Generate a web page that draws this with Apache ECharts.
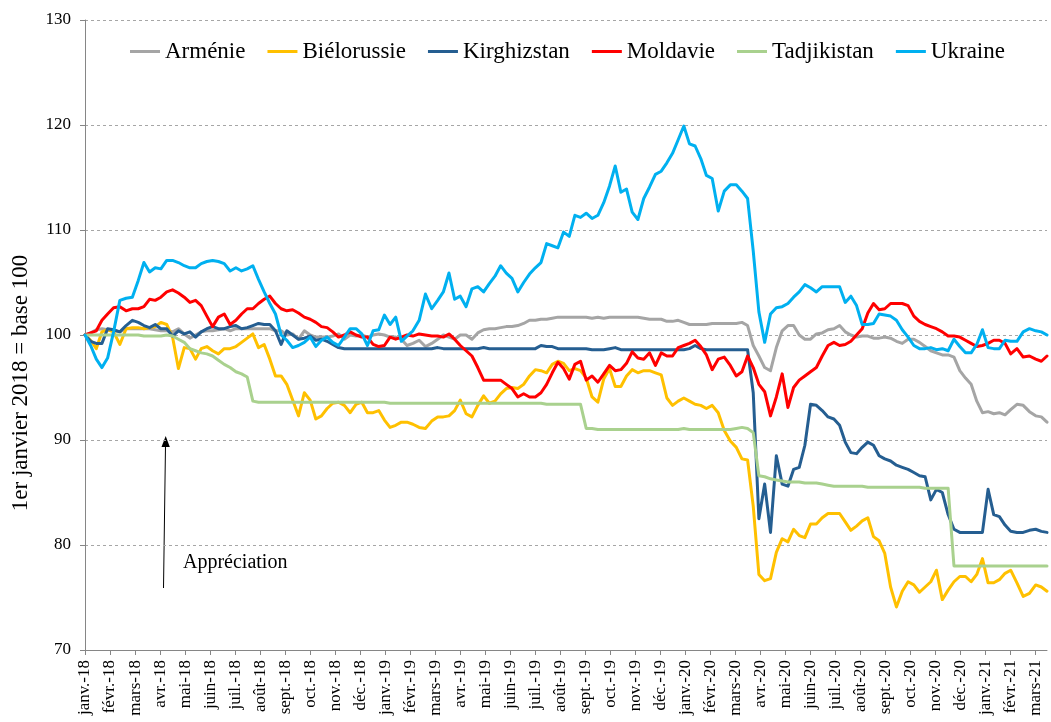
<!DOCTYPE html>
<html>
<head>
<meta charset="utf-8">
<title>Taux de change effectifs</title>
<script src="https://cdn.jsdelivr.net/npm/echarts@6/dist/echarts.min.js"></script>
<style>
  html, body {margin:0; padding:0; background:#fff;}
  #chart {width:1051px; height:722px;}
</style>
</head>
<body>
<div id="chart"></div>
<script>
// Etiquettes mensuelles de l'axe des abscisses
const monthLabels = [
    'janv.-18','févr.-18','mars-18','avr.-18','mai-18','juin-18','juil.-18','août-18','sept.-18','oct.-18','nov.-18','déc.-18',
    'janv.-19','févr.-19','mars-19','avr.-19','mai-19','juin-19','juil.-19','août-19','sept.-19','oct.-19','nov.-19','déc.-19',
    'janv.-20','févr.-20','mars-20','avr.-20','mai-20','juin-20','juil.-20','août-20','sept.-20','oct.-20','nov.-20','déc.-20',
    'janv.-21','févr.-21','mars-21'
];
const firstWeek = [2018, 0, 1]; // données hebdomadaires a partir du 1er janvier 2018

// Series hebdomadaires (base 100 = 1er janvier 2018)
const armenie = [
    100, 100.2, 100.5, 100.6, 100.5, 100.4, 100.3, 100.6, 100.6, 100.6,
    100.6, 100.6, 100.5, 100.4, 100.4, 100.3, 100.6, 100.1, 99.7, 100.0,
    100.3, 100.4, 100.4, 100.5, 100.6, 100.4, 100.6, 100.6, 100.6, 100.6,
    100.6, 100.6, 100.6, 100.4, 100.4, 100.0, 100.1, 99.6, 100.4, 100.0,
    99.8, 99.8, 99.8, 99.9, 100.1, 99.6, 100.0, 99.9, 100.0, 99.8,
    100.0, 100.1, 100.0, 99.8, 99.8, 99.6, 99.0, 99.2, 99.5, 98.9,
    99.2, 99.6, 100.0, 99.8, 99.6, 100.0, 100.0, 99.6, 100.2, 100.5,
    100.6, 100.6, 100.7, 100.8, 100.8, 100.9, 101.1, 101.4, 101.4, 101.5,
    101.5, 101.6, 101.7, 101.7, 101.7, 101.7, 101.7, 101.7, 101.6, 101.7,
    101.6, 101.7, 101.7, 101.7, 101.7, 101.7, 101.7, 101.6, 101.5, 101.5,
    101.5, 101.3, 101.3, 101.4, 101.2, 101.0, 101.0, 101.0, 101.0, 101.1,
    101.1, 101.1, 101.1, 101.1, 101.2, 100.9, 99.0, 98.0, 96.9, 96.6,
    98.8, 100.4, 100.9, 100.9, 100.0, 99.6, 99.6, 100.1, 100.2, 100.5,
    100.6, 100.9, 100.3, 100.0, 99.8, 99.9, 99.9, 99.7, 99.7, 99.8,
    99.7, 99.4, 99.2, 99.6, 99.6, 99.3, 98.9, 98.5, 98.3, 98.1,
    98.1, 97.9, 96.6, 95.9, 95.3, 93.7, 92.6, 92.7, 92.5, 92.6,
    92.4, 92.9, 93.4, 93.3, 92.7, 92.3, 92.2, 91.7
];
const bielorussie = [
    100, 99.5, 98.7, 100.3, 100.5, 100.3, 99.1, 100.6, 100.7, 100.7,
    100.6, 100.7, 100.8, 101.2, 101.0, 99.8, 96.8, 98.8, 98.7, 97.7,
    98.7, 98.9, 98.5, 98.2, 98.7, 98.7, 98.9, 99.3, 99.7, 100.1,
    98.8, 99.1, 97.7, 96.1, 96.1, 95.3, 93.8, 92.3, 94.5, 93.8,
    92.0, 92.3, 93.0, 93.5, 93.6, 93.3, 92.6, 93.4, 93.6, 92.6,
    92.6, 92.8, 91.9, 91.2, 91.4, 91.7, 91.7, 91.5, 91.2, 91.1,
    91.8, 92.2, 92.2, 92.3, 92.8, 93.8, 92.5, 92.2, 93.3, 94.2,
    93.5, 93.7, 94.4, 94.9, 95.0, 94.9, 95.3, 96.1, 96.7, 96.6,
    96.4, 97.2, 97.5, 97.3, 96.6, 96.8, 96.6, 95.9, 94.1, 93.6,
    95.8, 96.8, 95.1, 95.1, 96.1, 96.7, 96.4, 96.6, 96.6, 96.4,
    96.2, 94.0, 93.3, 93.7, 94.0, 93.7, 93.4, 93.3, 93.0, 93.3,
    92.6, 90.9, 89.9, 89.3, 88.2, 88.1, 83.7, 77.2, 76.6, 76.8,
    79.3, 80.6, 80.3, 81.5, 80.9, 80.7, 82.0, 82.0, 82.6, 83.0,
    83.0, 83.0, 82.2, 81.4, 81.8, 82.3, 82.6, 80.8, 80.4, 79.2,
    76.0, 74.1, 75.6, 76.5, 76.2, 75.5, 76.0, 76.5, 77.6, 74.8,
    75.7, 76.5, 77.0, 77.0, 76.5, 77.2, 78.7, 76.4, 76.4, 76.7,
    77.3, 77.6, 76.4, 75.1, 75.4, 76.2, 76.0, 75.6
];
const kirghizstan = [
    100, 99.4, 99.2, 99.2, 100.6, 100.5, 100.3, 100.9, 101.4, 101.2,
    100.9, 100.7, 101.0, 100.6, 100.6, 99.9, 100.4, 100.1, 100.3, 99.8,
    100.3, 100.6, 100.8, 100.6, 100.6, 100.8, 100.9, 100.6, 100.7, 100.9,
    101.1, 101.0, 101.0, 100.4, 99.1, 100.4, 100.0, 99.6, 99.7, 99.9,
    99.5, 99.6, 99.4, 99.1, 98.8, 98.7, 98.7, 98.7, 98.7, 98.7,
    98.7, 98.7, 98.7, 98.7, 98.7, 98.7, 98.7, 98.7, 98.7, 98.7,
    98.7, 98.8, 98.7, 98.7, 98.7, 98.7, 98.7, 98.7, 98.7, 98.8,
    98.7, 98.7, 98.7, 98.7, 98.7, 98.7, 98.7, 98.7, 98.7, 99.0,
    98.9, 98.9, 98.7, 98.7, 98.7, 98.7, 98.7, 98.7, 98.6, 98.6,
    98.6, 98.7, 98.8, 98.6, 98.6, 98.6, 98.6, 98.6, 98.6, 98.6,
    98.6, 98.6, 98.6, 98.6, 98.6, 98.7, 99.0, 98.7, 98.6, 98.6,
    98.6, 98.6, 98.6, 98.6, 98.6, 98.6, 94.5, 82.5, 85.8, 81.2,
    88.5, 85.8, 85.6, 87.2, 87.4, 89.5, 93.4, 93.3, 92.8, 92.2,
    92.0, 91.4, 89.8, 88.8, 88.7, 89.3, 89.8, 89.5, 88.5, 88.2,
    88.0, 87.6, 87.4, 87.2, 86.9, 86.6, 86.5, 84.3, 85.3, 85.0,
    82.9, 81.5, 81.2, 81.2, 81.2, 81.2, 81.2, 85.3, 82.9, 82.7,
    81.9, 81.3, 81.2, 81.2, 81.4, 81.5, 81.3, 81.2
];
const moldavie = [
    100, 100.2, 100.4, 101.4, 102.0, 102.6, 102.7, 102.3, 102.5, 102.5,
    102.7, 103.4, 103.3, 103.6, 104.1, 104.3, 104.0, 103.6, 103.1, 103.3,
    102.8, 101.8, 100.8, 101.7, 102.0, 101.0, 101.4, 102.0, 102.5, 102.5,
    103.0, 103.4, 103.7, 103.0, 102.5, 102.3, 102.4, 102.1, 101.7, 101.5,
    101.2, 100.8, 100.7, 100.3, 99.8, 100.0, 100.3, 100.0, 99.8, 99.8,
    99.1, 98.9, 99.0, 99.8, 99.6, 99.8, 100.0, 99.9, 100.1, 100.0,
    99.9, 99.9, 99.8, 100.1, 99.6, 99.0, 98.5, 98.0, 96.9, 95.7,
    95.7, 95.7, 95.7, 95.3, 94.9, 94.1, 94.4, 94.1, 94.1, 94.5,
    95.3, 96.4, 97.4, 96.8, 95.8, 97.2, 97.5, 95.7, 96.1, 95.5,
    96.3, 97.1, 96.6, 96.7, 97.3, 98.4, 97.8, 97.7, 98.3, 97.1,
    98.3, 98.0, 98.0, 98.8, 99.0, 99.2, 99.5, 98.9, 98.1, 96.7,
    97.7, 97.9, 97.1, 96.1, 96.5, 98.0, 96.9, 95.3, 94.6, 92.3,
    94.1, 96.3, 93.1, 95.0, 95.7, 96.1, 96.5, 96.9, 98.0, 99.0,
    99.3, 99.0, 99.1, 99.4, 100.0, 100.6, 102.1, 103.0, 102.4, 102.5,
    103.0, 103.0, 103.0, 102.8, 101.8, 101.3, 101.0, 100.8, 100.6, 100.3,
    99.9, 99.9, 99.8, 99.5, 99.2, 98.9, 99.0, 99.2, 99.5, 99.5,
    99.2, 98.2, 98.7, 97.9, 98.0, 97.7, 97.5, 98.0
];
const tadjikistan = [
    100, 100, 100, 100, 100, 100, 100, 100, 100, 100,
    99.9, 99.9, 99.9, 99.9, 100, 99.9, 99.6, 99.3, 98.7, 98.5,
    98.3, 98.2, 98.0, 97.6, 97.2, 96.9, 96.5, 96.3, 96.0, 93.7,
    93.6, 93.6, 93.6, 93.6, 93.6, 93.6, 93.6, 93.6, 93.6, 93.6,
    93.6, 93.6, 93.6, 93.6, 93.6, 93.6, 93.6, 93.6, 93.6, 93.6,
    93.6, 93.6, 93.6, 93.5, 93.5, 93.5, 93.5, 93.5, 93.5, 93.5,
    93.5, 93.5, 93.5, 93.5, 93.5, 93.5, 93.5, 93.5, 93.5, 93.5,
    93.5, 93.5, 93.5, 93.5, 93.5, 93.5, 93.5, 93.5, 93.5, 93.5,
    93.4, 93.4, 93.4, 93.4, 93.4, 93.4, 93.4, 91.1, 91.1, 91.0,
    91.0, 91.0, 91.0, 91.0, 91.0, 91.0, 91.0, 91.0, 91.0, 91.0,
    91.0, 91.0, 91.0, 91.0, 91.1, 91.0, 91.0, 91.0, 91.0, 91.0,
    91.0, 91.0, 91.0, 91.1, 91.2, 91.1, 90.7, 86.6, 86.5, 86.3,
    86.2, 86.1, 86.0, 86.0, 86.0, 85.9, 85.9, 85.9, 85.8, 85.7,
    85.6, 85.6, 85.6, 85.6, 85.6, 85.6, 85.5, 85.5, 85.5, 85.5,
    85.5, 85.5, 85.5, 85.5, 85.5, 85.5, 85.4, 85.4, 85.4, 85.4,
    85.4, 78.0, 78.0, 78.0, 78.0, 78.0, 78.0, 78.0, 78.0, 78.0,
    78.0, 78.0, 78.0, 78.0, 78.0, 78.0, 78.0, 78.0
];
const ukraine = [
    100, 99.0, 97.7, 96.9, 97.8, 100.3, 103.3, 103.5, 103.6, 105.2,
    106.9, 106.0, 106.4, 106.3, 107.1, 107.1, 106.9, 106.6, 106.4, 106.4,
    106.8, 107.0, 107.1, 107.0, 106.8, 106.1, 106.4, 106.1, 106.3, 106.6,
    105.3, 104.1, 103.0, 102.0, 100.0, 99.5, 98.8, 99.0, 99.3, 99.8,
    98.9, 99.5, 99.8, 99.3, 99.0, 99.8, 100.6, 100.6, 100.1, 99.0,
    100.4, 100.5, 101.9, 101.0, 101.7, 99.4, 99.9, 100.4, 101.4, 103.9,
    102.5, 103.3, 104.1, 105.9, 103.4, 103.7, 102.7, 104.4, 104.6, 104.1,
    104.9, 105.6, 106.6, 105.9, 105.4, 104.1, 105.0, 105.8, 106.4, 106.9,
    108.7, 108.5, 108.3, 109.8, 109.4, 111.4, 111.2, 111.6, 111.1, 111.4,
    112.6, 114.2, 116.1, 113.6, 113.9, 111.7, 111.0, 113.0, 114.1, 115.3,
    115.6, 116.4, 117.3, 118.6, 119.9, 118.2, 118.0, 116.8, 115.2, 114.9,
    111.8, 113.7, 114.3, 114.3, 113.7, 113.0, 108.0, 102.2, 99.3, 102.0,
    102.6, 102.7, 103.0, 103.6, 104.1, 104.8, 104.5, 104.1, 104.6, 104.6,
    104.6, 104.6, 103.1, 103.7, 102.8, 101.0, 101.0, 101.1, 102.0, 101.9,
    101.8, 101.4, 100.5, 99.8, 99.0, 98.7, 98.7, 98.8, 98.6, 98.7,
    98.5, 99.6, 98.9, 98.3, 98.3, 99.1, 100.5, 98.8, 98.7, 98.7,
    99.5, 99.4, 99.4, 100.3, 100.6, 100.4, 100.3, 100.0
];

const countries = [
    {name:'Arménie', color:'#A5A5A5', values:armenie},
    {name:'Biélorussie', color:'#FFC000', values:bielorussie},
    {name:'Kirghizstan', color:'#255E91', values:kirghizstan},
    {name:'Moldavie', color:'#FF0000', values:moldavie},
    {name:'Tadjikistan', color:'#A9D18E', values:tadjikistan},
    {name:'Ukraine', color:'#00B0F0', values:ukraine}
];

// position d'une date en mois depuis janv.-18 (les graduations tombent sur le 1er du mois)
function monthPos(k) {
    let d = new Date(Date.UTC(firstWeek[0], firstWeek[1], firstWeek[2] + 7 * k));
    let y = d.getUTCFullYear(), m = d.getUTCMonth();
    let daysInMonth = new Date(Date.UTC(y, m + 1, 0)).getUTCDate();
    return (y - 2018) * 12 + m + (d.getUTCDate() - 1) / daysInMonth;
}

const serif = 'Liberation Serif, Times New Roman, serif';
const axisGrey = '#868686';
const monthTicks = monthLabels.map((l, i) => i);
const lastPos = monthPos(armenie.length - 1);

let chart = echarts.init(document.getElementById('chart'), null, {renderer:'canvas'});
let options = {
    animation: false,
    backgroundColor: '#fff',
    grid: {left:85, right:4, top:20, bottom:72},
    legend: {
        left: 125,
        top: 35,
        itemGap: 22,
        itemWidth: 30,
        itemHeight: 3,
        icon: 'rect',
        textStyle: {fontFamily:serif, fontSize:23, color:'#000'},
        data: countries.map(c => c.name)
    },
    xAxis: {
        type: 'value',
        min: 0,
        max: lastPos,
        splitLine: {show:false},
        axisLine: {show:true, onZero:false, lineStyle:{color:axisGrey, width:1}},
        axisTick: {show:true, customValues:monthTicks, length:5, lineStyle:{color:axisGrey}},
        axisLabel: {
            customValues: monthTicks,
            rotate: 90,
            margin: 10,
            fontFamily: serif,
            fontSize: 17,
            color: '#000',
            formatter: v => monthLabels[Math.round(v)] || ''
        }
    },
    yAxis: {
        type: 'value',
        min: 70,
        max: 130,
        interval: 10,
        axisLine: {show:true, lineStyle:{color:axisGrey, width:1}},
        axisTick: {show:true, length:5, lineStyle:{color:axisGrey}},
        axisLabel: {fontFamily:serif, fontSize:17, color:'#000', margin:14},
        splitLine: {show:true, lineStyle:{color:'#A6A6A6', type:[3, 3], width:1}}
    },
    graphic: [
        {
            type: 'text',
            x: 21, y: 383,
            rotation: Math.PI / 2,
            style: {
                text: '1er janvier 2018 = base 100',
                font: '23px ' + serif,
                fill: '#000',
                textAlign: 'center',
                textVerticalAlign: 'middle'
            }
        },
        {
            type: 'line',
            shape: {x1:163.5, y1:588, x2:165.5, y2:445},
            style: {stroke:'#000', lineWidth:1}
        },
        {
            type: 'polygon',
            shape: {points:[[165.7, 436], [161.5, 447], [169.8, 447]]},
            style: {fill:'#000'}
        },
        {
            type: 'text',
            x: 183, y: 563,
            style: {
                text: 'Appréciation',
                font: '20px ' + serif,
                fill: '#000',
                textAlign: 'left',
                textVerticalAlign: 'middle'
            }
        }
    ],
    series: countries.map(c => ({
        name: c.name,
        type: 'line',
        symbol: 'none',
        smooth: false,
        color: c.color,
        lineStyle: {color:c.color, width:3, join:'round', cap:'round'},
        data: c.values.map((v, k) => [monthPos(k), v])
    }))
};
chart.setOption(options);
</script>
</body>
</html>
